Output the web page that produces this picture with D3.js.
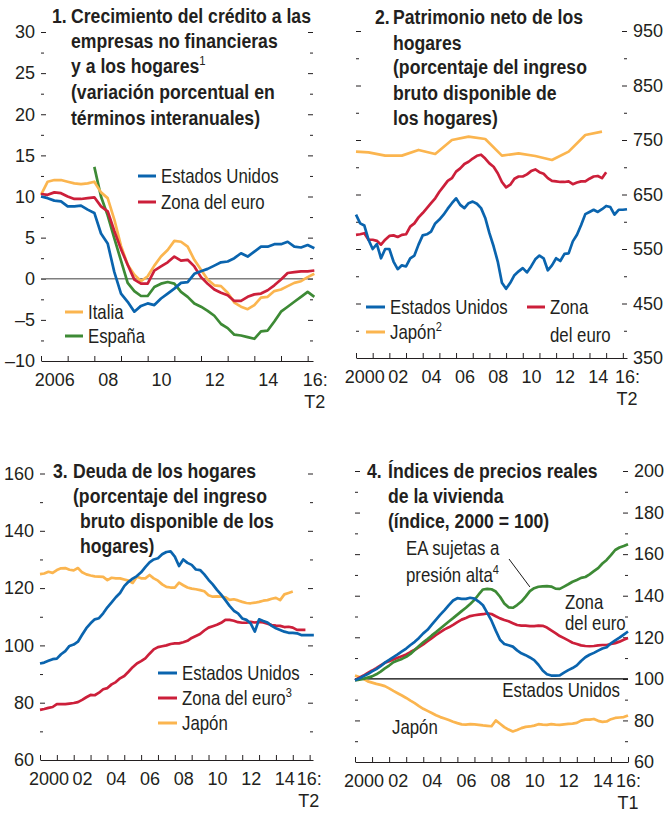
<!DOCTYPE html>
<html><head><meta charset="utf-8">
<script src="https://cdn.jsdelivr.net/npm/d3@7"></script>
<style>
body{margin:0;background:#fff}
svg{display:block}
.title{font-family:"Liberation Sans",Arial,sans-serif;font-weight:bold;font-size:21px;fill:#231f20}
.lab{font-family:"Liberation Sans",Arial,sans-serif;font-size:20.5px;fill:#231f20}
</style></head><body>
<svg id="chart" width="665" height="815"></svg>
<script>
// ---------------- DATA ----------------
// Panel 1: credit growth, quarterly from 2006Q1
const p1Start = 2006;
const p1US = [10.0,9.8,9.5,9.4,8.8,8.8,8.9,8.4,8.0,5.5,4.3,0.8,-1.8,-2.8,-4.0,-3.3,-3.0,-3.2,-2.4,-1.8,-1.2,-0.5,-0.4,0.6,0.9,1.2,1.6,2.0,2.1,2.5,3.1,2.7,3.3,3.9,3.9,4.2,4.2,4.5,3.9,3.8,4.1,3.7];
const p1EA = [10.3,10.2,10.5,10.4,10.0,9.7,9.7,9.8,9.9,8.8,8.2,5.8,3.6,1.7,-0.1,-0.6,-0.6,1.0,1.5,2.0,2.7,2.2,2.3,1.5,0.2,-0.6,-1.3,-1.7,-2.0,-2.7,-2.7,-2.2,-1.9,-1.8,-1.4,-0.8,-0.1,0.7,0.8,0.9,0.9,1.0];
const p1IT = [10.2,11.8,12.0,12.0,11.8,11.6,11.5,11.6,11.8,10.5,9.8,7.2,4.0,1.7,0.5,-0.3,0.3,1.6,2.7,3.5,4.6,4.5,3.9,2.3,1.1,-0.1,-0.8,-0.9,-1.7,-2.9,-3.4,-3.7,-3.2,-2.3,-2.2,-1.5,-1.3,-0.9,-0.5,-0.3,0.2,0.6];
const p1ESStart = 2008;
const p1ES = [13.6,10.0,7.7,4.9,2.2,-0.5,-1.5,-2.1,-2.1,-1.0,-0.6,-0.4,-0.6,-1.6,-2.2,-3.0,-3.4,-3.9,-4.5,-5.5,-6.0,-6.8,-6.9,-7.1,-7.3,-6.4,-6.3,-5.2,-4.0,-3.4,-2.8,-2.2,-1.6,-2.2];
const p1XLabelPos = [2006.5,2008.5,2010.5,2012.5,2014.5,2016.27];
const p1XLabels = ["2006","08","10","12","14","16:"];
const p1YTicks = [-10,-5,0,5,10,15,20,25,30];

// Panel 2: household net worth, quarterly from 2000Q1
const p2Start = 2000;
const p2US = [613,597,593,567,550,559,533,550,550,527,513,520,518,533,538,558,575,577,582,597,604,613,624,634,643,631,625,634,637,633,625,607,579,555,527,488,477,488,502,509,515,507,518,531,538,533,511,520,533,528,541,542,564,576,594,614,618,622,618,623,629,627,613,622,622,623];
const p2EA = [576,577,579,567,567,565,558,567,574,575,572,576,577,591,597,608,616,625,634,643,655,665,675,680,692,698,706,710,716,721,723,716,707,701,689,673,663,668,679,683,683,687,693,696,691,688,680,675,674,673,673,674,669,672,674,674,679,683,684,680,691];
const p2JPYears = [2000,2000.75,2001.75,2002.75,2003.75,2004.75,2005.75,2006.75,2007.75,2008.75,2009.75,2010.75,2011.75,2012.75,2013.75,2014.75];
const p2JP = [728.6,727.4,721.3,721.3,731.7,724.4,750,756.1,751.8,721.3,725.6,720.7,713.4,728.6,759.2,765.3];
const p2XLabelPos = [2000.5,2002.5,2004.5,2006.5,2008.5,2010.5,2012.5,2014.5,2016.25];
const p2XLabels = ["2000","02","04","06","08","10","12","14","16:"];
const p2YTicks = [350,450,550,650,750,850,950];

// Panel 3: household debt, quarterly from 2000Q1
const p3Start = 2000;
const p3US = [93.7,94.0,94.6,95.2,95.4,96.9,98.0,99.8,100.3,101.3,103.7,106.0,107.7,109.1,109.5,111.2,113.3,115.0,116.8,118.3,120.7,122.2,123.3,124.2,125.5,127.3,129.0,130.0,130.4,131.8,132.6,132.8,131.0,127.7,130.0,128.8,128.1,126.5,126.3,124.8,122.9,121.3,119.4,117.7,115.8,113.8,112.1,111.2,109.4,108.9,107.7,104.8,109.1,108.5,108.0,106.8,106.0,105.4,104.8,104.4,104.4,104.2,103.6,103.6,103.6,103.6];
const p3EA = [77.5,77.8,78.2,78.5,79.5,79.5,79.5,79.7,79.9,80.2,81.0,81.9,82.7,82.6,83.5,84.7,85.1,86.4,87.2,88.5,89.3,90.8,92.4,93.7,94.5,95.5,97.1,98.6,99.4,99.7,100.0,100.5,100.7,100.7,101.1,101.6,102.6,103.3,104.0,105.2,106.2,106.7,107.2,107.9,108.9,108.9,108.6,108.1,107.9,107.9,108.2,108.0,108.2,108.0,107.6,107.1,106.9,106.8,106.4,106.5,106.2,105.4,105.4,105.4];
const p3JP = [124.9,125.1,125.7,125.3,126.3,126.9,127.0,126.4,126.2,127.0,125.5,124.8,124.4,124.1,124.0,123.9,122.8,123.6,123.4,123.4,123.0,122.6,121.8,124.0,123.4,123.4,124.6,123.4,122.6,121.3,120.4,120.2,120.2,121.9,121.0,120.2,119.8,119.6,119.3,118.9,117.5,117.0,117.1,117.0,116.8,115.9,116.1,115.7,115.2,114.8,114.7,114.9,115.2,115.6,115.8,116.3,116.6,115.8,117.8,118.3,118.8];
const p3XLabelPos = [2000.5,2002.5,2004.5,2006.5,2008.5,2010.5,2012.5,2014.5,2015.95];
const p3XLabels = ["2000","02","04","06","08","10","12","14","16:"];
const p3YTicks = [60,80,100,120,140,160];

// Panel 4: real house price indices (2000 = 100), quarterly from 2000Q1
const p4Start = 2000;
const p4US = [99.3,100.2,101.3,102.3,103.6,104.7,106.1,107.8,109.1,110.5,111.8,113.2,114.6,116.3,117.8,119.7,121.9,123.6,126.1,128.5,130.9,133.1,135.5,137.7,138.8,138.5,138.5,139.0,138.6,137.2,135.4,131.7,128.0,123.2,118.8,116.8,116.2,115.5,113.7,112.3,111.4,110.3,109.0,106.8,104.0,102.2,101.6,101.6,101.7,103.0,104.2,105.2,106.5,108.6,110.4,111.6,112.5,113.6,114.6,115.2,117.1,118.5,119.8,121.3,122.8];
const p4EA = [99.4,100.6,101.6,102.9,104.0,105.2,106.5,107.7,108.5,109.3,110.1,110.9,111.7,112.9,114.0,115.3,116.6,118.1,119.6,121.1,122.5,123.8,124.8,126.0,127.3,128.5,129.3,130.2,130.6,130.9,131.1,131.5,131.2,130.1,129.1,128.3,127.7,126.8,125.9,125.6,125.6,125.4,125.4,125.6,125.5,124.7,123.3,122.0,120.6,119.6,118.5,117.4,116.8,116.1,115.8,115.7,115.8,116.1,116.3,116.3,116.8,117.2,117.9,118.8,119.6];
const p4HP = [99.3,99.6,100.0,100.6,101.2,102.2,103.5,105.0,106.4,108.0,108.8,109.6,110.6,112.0,113.9,115.8,117.6,119.2,120.9,122.5,124.2,125.9,127.6,129.2,130.9,132.6,134.2,136.0,138.0,140.6,143.0,143.3,143.1,142.0,139.5,136.3,134.4,134.2,135.5,137.2,139.6,142.2,143.6,144.3,144.5,144.6,144.4,143.4,143.3,144.4,145.5,146.7,147.6,148.6,149.0,150.3,151.8,153.3,155.5,157.2,159.5,162.0,163.2,163.9,164.8];
const p4JP = [101.6,100.9,100.0,98.8,98.2,97.6,97.1,96.5,95.4,94.2,93.1,92.0,90.8,89.5,88.3,86.9,85.6,84.6,83.6,82.5,81.6,80.9,80.2,79.4,78.7,78.1,78.0,78.2,78.1,77.9,77.6,77.4,77.2,80.0,78.4,76.8,75.6,74.7,75.4,76.3,76.9,77.1,77.5,78.2,78.0,77.9,78.2,78.0,77.9,78.1,78.3,78.5,78.8,79.9,80.4,80.4,80.7,79.8,79.3,79.5,80.6,81.2,81.4,81.6,82.4];
const p4XLabelPos = [2000.5,2002.5,2004.5,2006.5,2008.5,2010.5,2012.5,2014.5,2016.0];
const p4XLabels = ["2000","02","04","06","08","10","12","14","16:"];
const p4YTicks = [60,80,100,120,140,160,180,200];

// ---------------- STYLE ----------------
const C = {blue:"#0a64ae", red:"#cc1f3a", yellow:"#fbb54f", green:"#3d8a35", ink:"#231f20"};
const NUM_FONT = '"Liberation Sans", Arial, sans-serif';
const NARROW = {title:0.84, lab:0.82};   // condensed look (no narrow font installed)

const svg = d3.select("#chart");
const q = (start, vals) => vals.map((v,i)=>({x:start+i/4, y:v}));
const fmt = d => d < 0 ? "\u2013" + Math.abs(d) : String(d);

function styleAxis(sel){
  sel.select(".domain").remove();
  sel.selectAll(".tick line").attr("stroke", C.ink).attr("stroke-width", 1);
  sel.selectAll("text").attr("fill", C.ink).style("font-family", NUM_FONT).style("font-size","18px");
}

function ntext(g, cls, x, y, text, anchor, sup){
  const t = g.append("text").attr("class", cls)
    .attr("transform", `translate(${x},${y}) scale(${NARROW[cls]},1)`)
    .attr("text-anchor", anchor || "start");
  t.append("tspan").text(text);
  if(sup) t.append("tspan").attr("dy",-8).style("font-size","13.5px").style("font-weight","normal").text(sup);
  return t;
}

function panel(cfg){
  const g = svg.append("g");
  const x = d3.scaleLinear().domain(cfg.xDomain).range(cfg.xRange);
  const y = d3.scaleLinear().domain(cfg.yDomain).range(cfg.yRange);
  const [x0,x1] = cfg.xRange;
  const yb = cfg.yRange[0];
  const all = d3.range(cfg.yDomain[0] + cfg.yMinor, cfg.yDomain[1] + 1e-9, cfg.yMinor);
  const isMajor = v => cfg.yTicks.some(t => Math.abs(t - v) < 1e-9);
  const maj = all.filter(isMajor), mnr = all.filter(v => !isMajor(v));
  g.append("g").attr("transform",`translate(${x0},0)`).call(d3.axisRight(y).tickValues(maj).tickSize(5).tickFormat("")).call(styleAxis);
  g.append("g").attr("transform",`translate(${x0},0)`).call(d3.axisRight(y).tickValues(mnr).tickSize(3).tickFormat("")).call(styleAxis);
  g.append("g").attr("transform",`translate(${x1},0)`).call(d3.axisLeft(y).tickValues(maj).tickSize(5).tickFormat("")).call(styleAxis);
  g.append("g").attr("transform",`translate(${x1},0)`).call(d3.axisLeft(y).tickValues(mnr).tickSize(3).tickFormat("")).call(styleAxis);
  if(cfg.labelSide === "left"){
    g.append("g").attr("transform",`translate(${x0-5},0)`).call(d3.axisLeft(y).tickValues(cfg.yTicks).tickSize(0).tickPadding(1).tickFormat(fmt)).call(styleAxis);
  } else {
    g.append("g").attr("transform",`translate(${x1+5},0)`).call(d3.axisRight(y).tickValues(cfg.yTicks).tickSize(0).tickPadding(1).tickFormat(fmt)).call(styleAxis);
  }
  const years = d3.range(Math.ceil(cfg.xDomain[0]), Math.floor(cfg.xDomain[1]) + 1);
  const xa = g.append("g").attr("transform",`translate(0,${yb})`)
    .call(d3.axisTop(x).tickValues(years).tickSize(5).tickSizeOuter(0).tickFormat(""));
  xa.select(".domain").attr("stroke", C.ink).attr("stroke-width", 1.2);
  xa.selectAll(".tick line").attr("stroke", C.ink);
  const xl = g.append("g").attr("transform",`translate(0,${yb})`)
    .call(d3.axisBottom(x).tickValues(cfg.xLabelPos).tickSize(0).tickPadding(12).tickFormat((d,i)=>cfg.xLabels[i]));
  styleAxis(xl);
  const last = cfg.xLabelPos[cfg.xLabelPos.length-1];
  g.append("text").attr("x", x(last)).attr("y", yb + 47).attr("text-anchor","middle")
    .style("font-family", NUM_FONT).style("font-size","18px").attr("fill", C.ink).text(cfg.subLabel);
  if(cfg.refLine){
    g.append("line").attr("x1",x0).attr("x2",x1).attr("y1",y(cfg.refLine.v)).attr("y2",y(cfg.refLine.v))
      .attr("stroke",cfg.refLine.color).attr("stroke-width",cfg.refLine.w);
  }
  const line = d3.line().x(d=>x(d.x)).y(d=>y(d.y)).curve(d3.curveLinear);
  cfg.series.forEach(s => {
    g.append("path").datum(s.data).attr("d", line).attr("fill","none")
      .attr("stroke", s.color).attr("stroke-width", 2.7).attr("stroke-linejoin","round").attr("stroke-linecap","butt");
  });
  ntext(g, "title", cfg.title.numX, cfg.title.lines[0].y, cfg.title.num);
  cfg.title.lines.forEach(l => ntext(g, "title", l.x, l.y, l.text, "start", l.sup));
  return {g, x, y};
}

function legendItem(g, x1, x2, yy, color, lbl, sup){
  g.append("line").attr("x1",x1).attr("x2",x2).attr("y1",yy).attr("y2",yy).attr("stroke",color).attr("stroke-width",3);
  if(lbl) ntext(g, "lab", x2+5, yy+7, lbl, "start", sup);
}

// ---------------- PANEL 1 ----------------
const P1 = panel({
  xDomain:[2006, 2016.2], xRange:[41, 313], yDomain:[-10, 30], yRange:[361, 32],
  yTicks:p1YTicks, yMinor:2.5, labelSide:"left",
  xLabelPos:p1XLabelPos, xLabels:p1XLabels, subLabel:"T2",
  refLine:{v:0, color:"#7f7f7f", w:1.3},
  series:[
    {data:q(p1ESStart,p1ES), color:C.green},
    {data:q(p1Start,p1IT), color:C.yellow},
    {data:q(p1Start,p1EA), color:C.red},
    {data:q(p1Start,p1US), color:C.blue}
  ],
  title:{num:"1.", numX:52, lines:[
    {x:71,y:22.5,text:"Crecimiento del crédito a las"},
    {x:71,y:48,text:"empresas no financieras"},
    {x:71,y:73,text:"y a los hogares", sup:"1"},
    {x:71,y:99,text:"(variación porcentual en"},
    {x:71,y:124.5,text:"términos interanuales)"}]}
});
legendItem(P1.g, 138, 156, 176, C.blue, "Estados Unidos");
legendItem(P1.g, 138, 156, 202, C.red, "Zona del euro");
legendItem(P1.g, 65, 83, 312, C.yellow, "Italia");
legendItem(P1.g, 65, 83, 336, C.green, "España");

// ---------------- PANEL 2 ----------------
const P2 = panel({
  xDomain:[2000, 2016.25], xRange:[356, 627], yDomain:[350, 950], yRange:[358, 31],
  yTicks:p2YTicks, yMinor:50, labelSide:"right",
  xLabelPos:p2XLabelPos, xLabels:p2XLabels, subLabel:"T2",
  series:[
    {data:p2JPYears.map((yr,i)=>({x:yr, y:p2JP[i]})), color:C.yellow},
    {data:q(p2Start,p2EA), color:C.red},
    {data:q(p2Start,p2US), color:C.blue}
  ],
  title:{num:"2.", numX:375, lines:[
    {x:393,y:24,text:"Patrimonio neto de los"},
    {x:393,y:49.5,text:"hogares"},
    {x:393,y:73.5,text:"(porcentaje del ingreso"},
    {x:393,y:99.5,text:"bruto disponible de"},
    {x:393,y:124.5,text:"los hogares)"}]}
});
legendItem(P2.g, 366, 385, 307, C.blue, "Estados Unidos");
legendItem(P2.g, 366, 385, 332, C.yellow, "Japón", "2");
legendItem(P2.g, 527, 545, 307, C.red, "Zona");
ntext(P2.g, "lab", 550, 342, "del euro");

// ---------------- PANEL 3 ----------------
const P3 = panel({
  xDomain:[2000, 2016.2], xRange:[40, 313], yDomain:[60, 160], yRange:[760, 473.5],
  yTicks:p3YTicks, yMinor:10, labelSide:"left",
  xLabelPos:p3XLabelPos, xLabels:p3XLabels, subLabel:"T2",
  series:[
    {data:q(p3Start,p3JP), color:C.yellow},
    {data:q(p3Start,p3EA), color:C.red},
    {data:q(p3Start,p3US), color:C.blue}
  ],
  title:{num:"3.", numX:53, lines:[
    {x:73,y:477.5,text:"Deuda de los hogares"},
    {x:73,y:502.5,text:"(porcentaje del ingreso"},
    {x:80,y:527.5,text:"bruto disponible de los"},
    {x:80,y:552.5,text:"hogares)"}]}
});
legendItem(P3.g, 158, 177, 673, C.blue, "Estados Unidos");
legendItem(P3.g, 158, 177, 698, C.red, "Zona del euro", "3");
legendItem(P3.g, 158, 177, 723, C.yellow, "Japón");

// ---------------- PANEL 4 ----------------
const P4 = panel({
  xDomain:[2000, 2016], xRange:[355, 628], yDomain:[60, 200], yRange:[762, 471],
  yTicks:p4YTicks, yMinor:10, labelSide:"right",
  xLabelPos:p4XLabelPos, xLabels:p4XLabels, subLabel:"T1",
  refLine:{v:100, color:"#000", w:1.2},
  series:[
    {data:q(p4Start,p4JP), color:C.yellow},
    {data:q(p4Start,p4EA), color:C.red},
    {data:q(p4Start,p4HP), color:C.green},
    {data:q(p4Start,p4US), color:C.blue}
  ],
  title:{num:"4.", numX:367, lines:[
    {x:388,y:477.5,text:"Índices de precios reales"},
    {x:388,y:502.5,text:"de la vivienda"},
    {x:388,y:527.5,text:"(índice, 2000 = 100)"}]}
});
ntext(P4.g, "lab", 406, 555, "EA sujetas a");
ntext(P4.g, "lab", 406, 582, "presión alta", "start", "4");
P4.g.append("line").attr("x1",509).attr("y1",559).attr("x2",P4.x(2010.25)).attr("y2",P4.y(144.2)).attr("stroke","#000").attr("stroke-width",0.9);
ntext(P4.g, "lab", 565, 609, "Zona");
ntext(P4.g, "lab", 565, 630, "del euro");
ntext(P4.g, "lab", 620, 697, "Estados Unidos", "end");
ntext(P4.g, "lab", 392, 734, "Japón");
</script>
</body></html>
